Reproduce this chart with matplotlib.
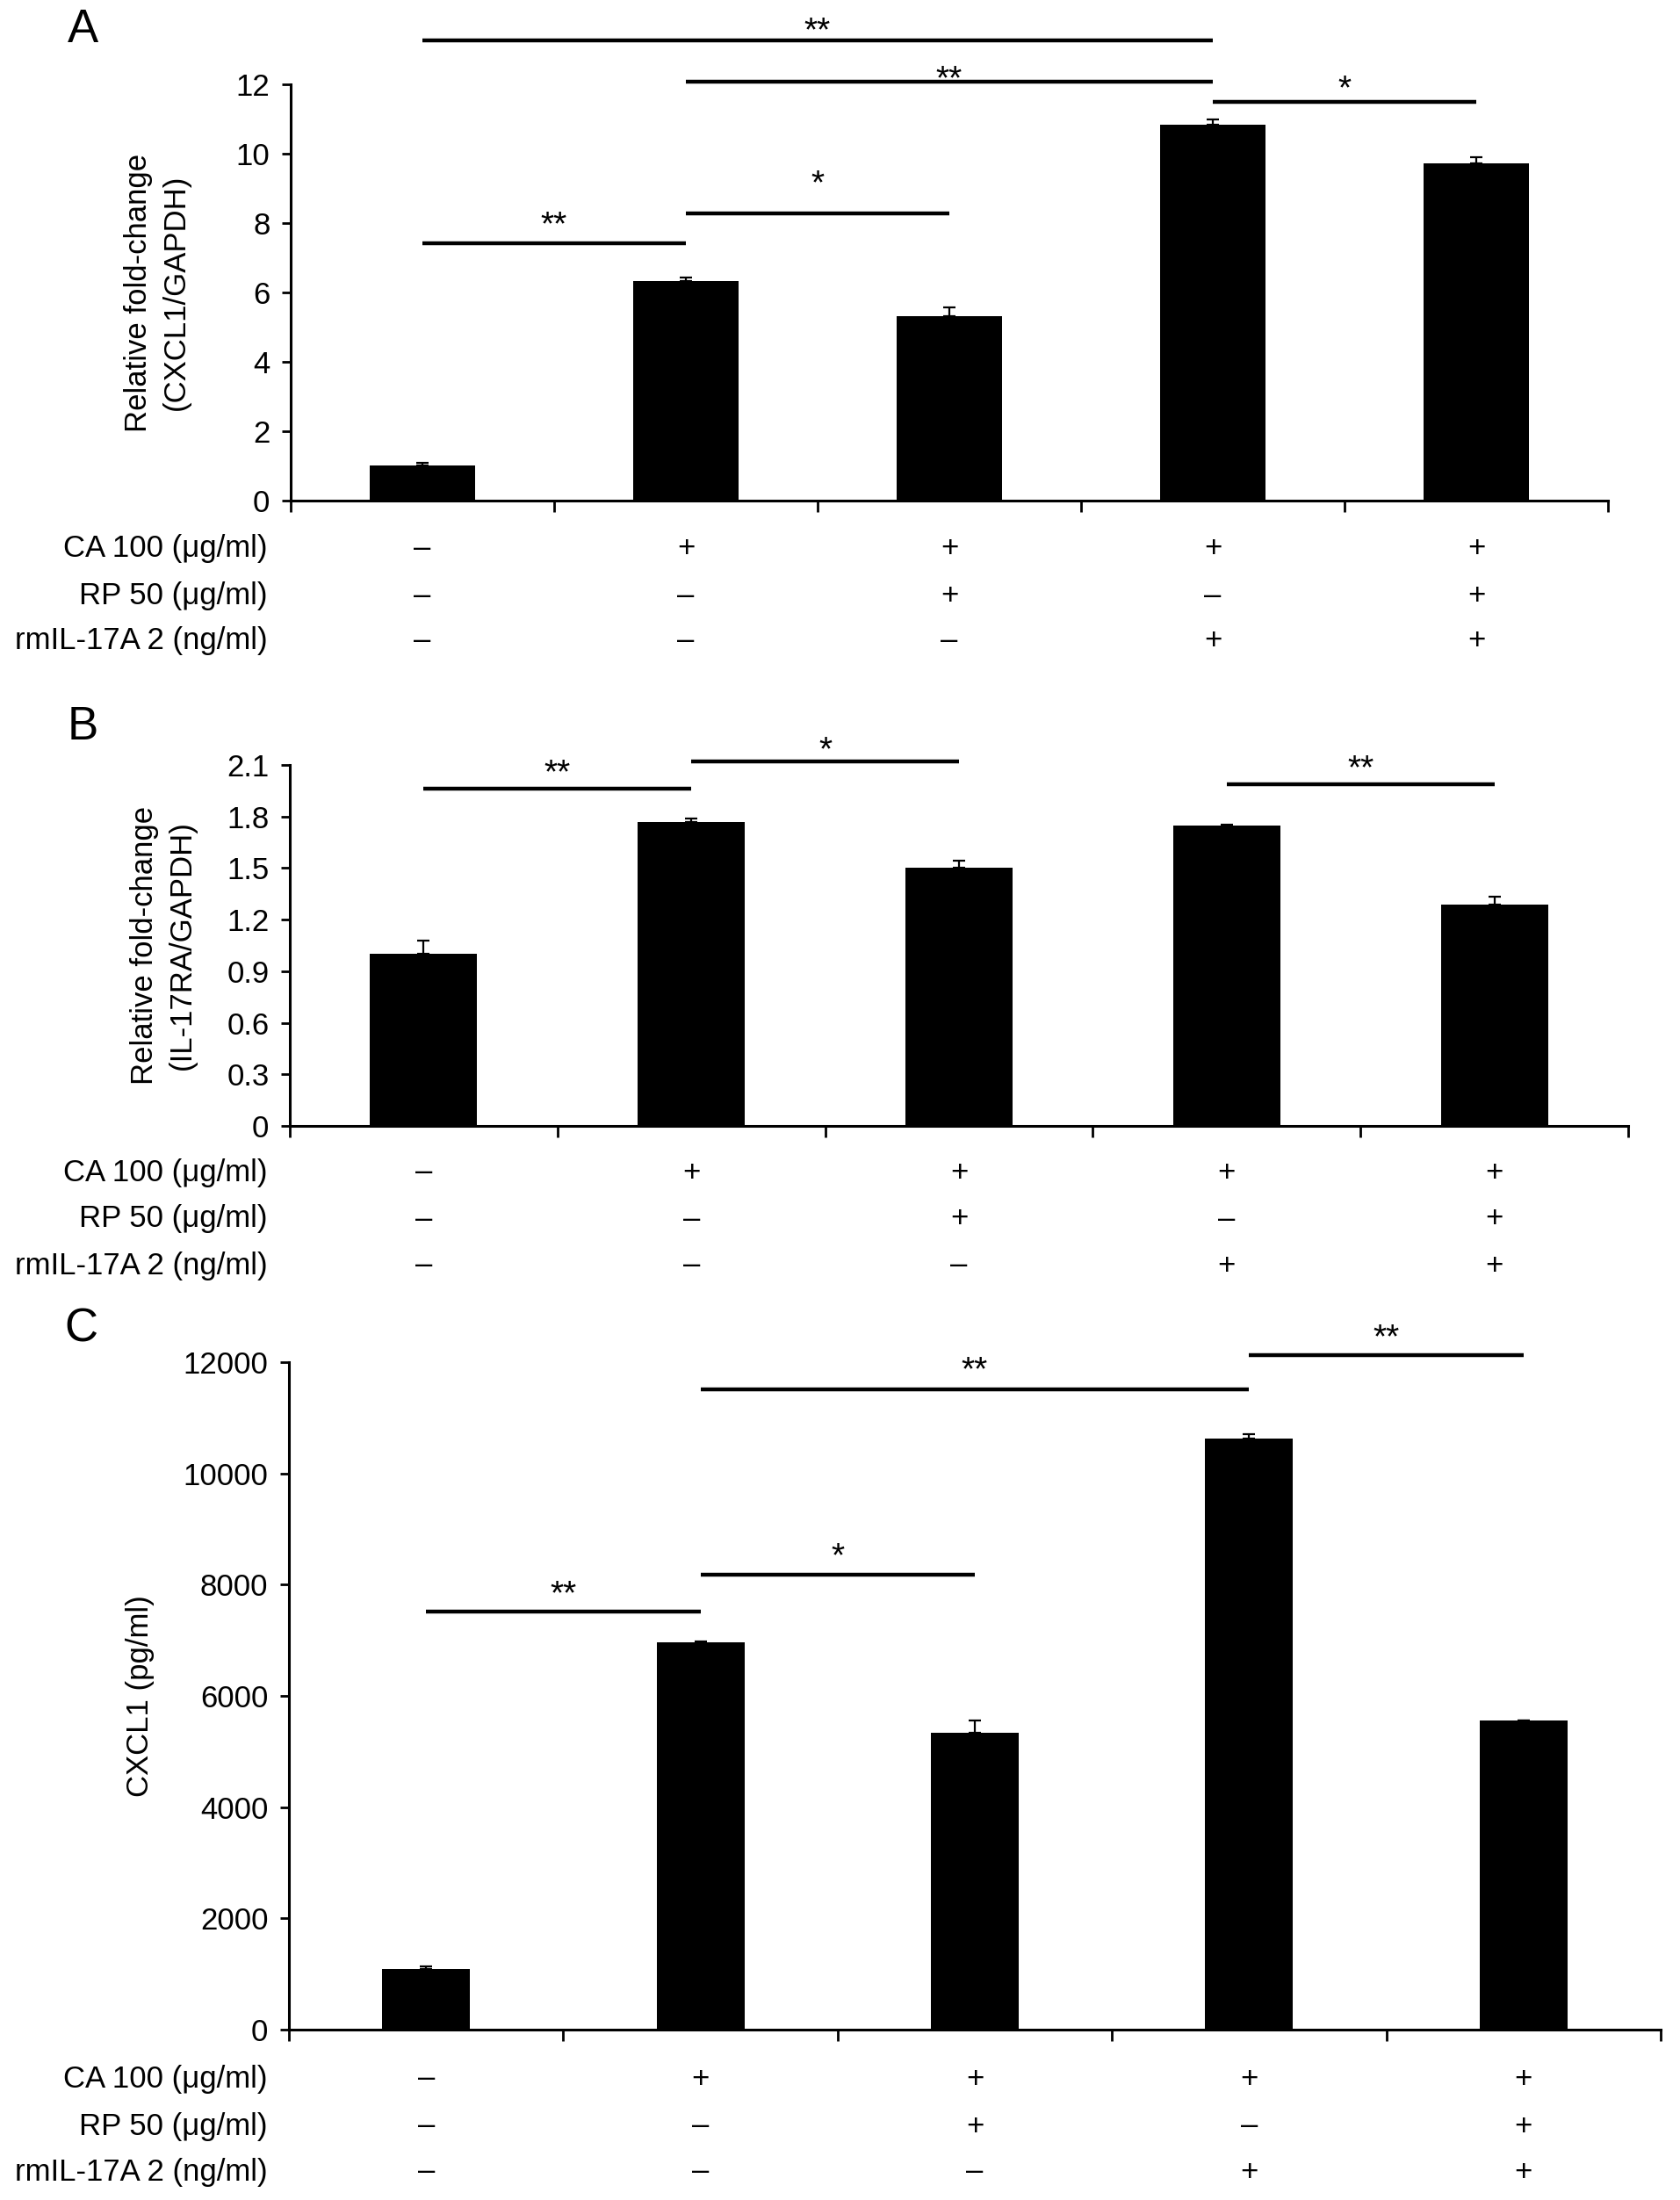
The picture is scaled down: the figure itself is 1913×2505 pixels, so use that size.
import numpy as np
import matplotlib
matplotlib.use("Agg")
import matplotlib.pyplot as plt
from matplotlib.transforms import blended_transform_factory

plt.rcParams['font.family'] = ['Liberation Sans', 'DejaVu Sans']
FS = 25
STAR_FS = 28

# treatment table under every panel
row_labels = ['CA 100 (μg/ml)', 'RP 50 (μg/ml)', 'rmIL-17A 2 (ng/ml)']
row_signs = [['–', '+', '+', '+', '+'],
             ['–', '–', '+', '–', '+'],
             ['–', '–', '–', '+', '+']]

# Panel A - CXCL1 mRNA
a_values = [1.02, 6.32, 5.32, 10.83, 9.72]
a_errors = [0.06, 0.11, 0.25, 0.16, 0.18]
a_yticks = [0, 2, 4, 6, 8, 10, 12]
a_yticklabels = ['0', '2', '4', '6', '8', '10', '12']
# (group i, group j, line height, star centre height, label)
a_sig = [(0, 3, 13.27, 13.83, '**'),
         (1, 3, 12.08, 12.43, '**'),
         (3, 4, 11.50, 12.15, '*'),
         (0, 1, 7.43, 8.23, '**'),
         (1, 2, 8.28, 9.42, '*')]

# Panel B - IL-17RA mRNA
b_values = [1.00, 1.77, 1.50, 1.745, 1.29]
b_errors = [0.08, 0.02, 0.045, 0.01, 0.045]
b_yticks = [0, 0.3, 0.6, 0.9, 1.2, 1.5, 1.8, 2.1]
b_yticklabels = ['0', '0.3', '0.6', '0.9', '1.2', '1.5', '1.8', '2.1']
b_sig = [(0, 1, 1.962, 2.111, '**'),
         (1, 2, 2.122, 2.243, '*'),
         (3, 4, 1.988, 2.133, '**')]

# Panel C - CXCL1 protein
c_values = [1090, 6960, 5330, 10630, 5555]
c_errors = [45, 20, 230, 80, 10]
c_yticks = [0, 2000, 4000, 6000, 8000, 10000, 12000]
c_yticklabels = ['0', '2000', '4000', '6000', '8000', '10000', '12000']
c_sig = [(0, 1, 7510, 7996, '**'),
         (1, 2, 8172, 8690, '*'),
         (1, 3, 11503, 12031, '**'),
         (3, 4, 12134, 12620, '**')]

W, H = 1913, 2505
fig = plt.figure(figsize=(W / 100, H / 100), dpi=100)


def px(x, y):
    # pixel position -> figure fraction
    return x / W, 1 - y / H


def draw_panel(box, letter, letter_pos, ylabel, ylabel_pos, values, errors,
               yticks, yticklabels, bar_width, sig, row_y):
    x0, y0, x1, y1 = box
    ax = fig.add_axes([x0 / W, 1 - y1 / H, (x1 - x0) / W, (y1 - y0) / H])
    n = len(values)
    x = np.arange(n) + 0.5
    ax.bar(x, values, width=bar_width, color='black', zorder=2)
    ax.errorbar(x, values, yerr=[np.zeros(n), errors], fmt='none',
                ecolor='black', elinewidth=1.6, capsize=5, capthick=1.6, zorder=3)
    ax.set_xlim(0, n)
    ax.set_ylim(yticks[0], yticks[-1])
    ax.set_xticks(np.arange(n + 1))
    ax.set_xticklabels([])
    ax.set_yticks(yticks)
    ax.set_yticklabels(yticklabels, fontsize=FS)
    for s in ['top', 'right']:
        ax.spines[s].set_visible(False)
    for s in ['left', 'bottom']:
        ax.spines[s].set_linewidth(2.2)
    ax.tick_params(axis='y', direction='out', length=7, width=2, pad=10)
    ax.tick_params(axis='x', direction='out', length=9, width=2)

    # significance bars
    for i, j, h, sh, lab in sig:
        ax.plot([i + 0.5, j + 0.5], [h, h], color='black', lw=3.2,
                solid_capstyle='butt', clip_on=False)
        ax.annotate(lab, xy=((i + j) / 2 + 0.5, sh), xytext=(0, -16),
                    textcoords='offset points', ha='center', va='baseline',
                    fontsize=STAR_FS, annotation_clip=False)

    # treatment table
    trans = blended_transform_factory(ax.transData, fig.transFigure)
    for r, lab in enumerate(row_labels):
        fy = 1 - row_y[r] / H
        fig.text(305 / W, fy, lab, ha='right', va='center', fontsize=FS)
        for k, sgn in enumerate(row_signs[r]):
            ax.text(k + 0.5, fy, sgn, transform=trans, ha='center',
                    va='center', fontsize=FS)

    lx, ly = px(*letter_pos)
    fig.text(lx, ly, letter, ha='center', va='center', fontsize=38)
    yx, yy = px(*ylabel_pos)
    fig.text(yx, yy, ylabel, rotation=90, ha='center', va='center',
             fontsize=FS, multialignment='center', linespacing=1.35)
    return ax


draw_panel((331, 96, 1831, 570), 'A', (94, 34),
           'Relative fold-change\n(CXCL1/GAPDH)', (179, 333),
           a_values, a_errors, a_yticks, a_yticklabels, 0.40, a_sig,
           [625, 678, 730])

draw_panel((330, 871, 1854, 1282), 'B', (94, 828),
           'Relative fold-change\n(IL-17RA/GAPDH)', (186, 1076),
           b_values, b_errors, b_yticks, b_yticklabels, 0.40, b_sig,
           [1335, 1388, 1441])

draw_panel((329, 1551, 1891, 2311), 'C', (92, 1514),
           'CXCL1 (pg/ml)', (159, 1931),
           c_values, c_errors, c_yticks, c_yticklabels, 0.32, c_sig,
           [2367, 2421, 2473])

fig.savefig('out.png', dpi=100, facecolor='white')
